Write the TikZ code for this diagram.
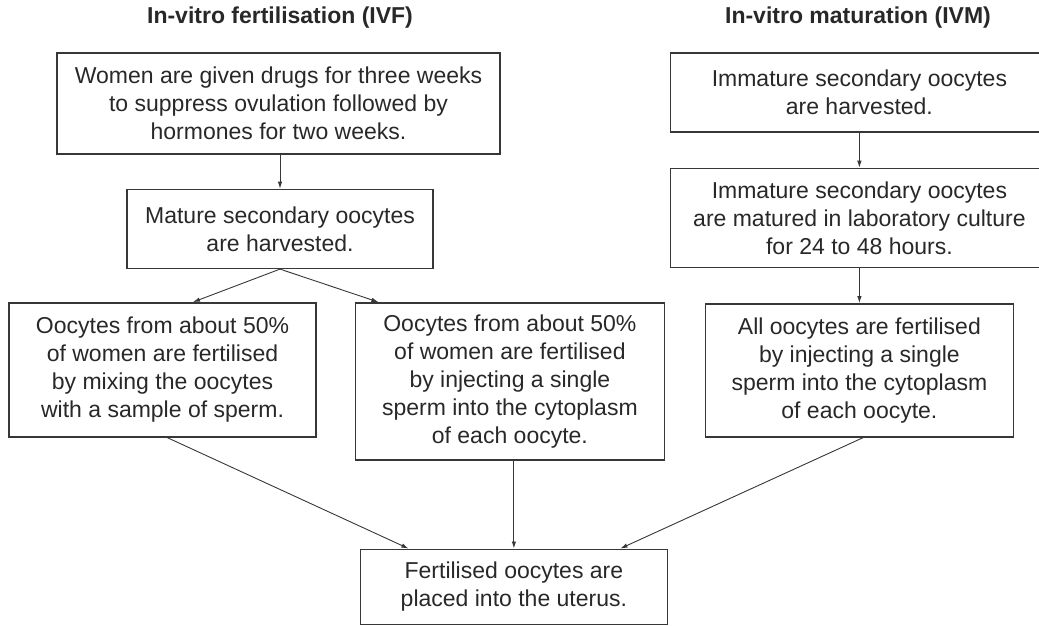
\documentclass[tikz,border=0pt]{standalone}
\usepackage{fontspec}
\setmainfont{Liberation Sans}
\definecolor{InkGray}{RGB}{40,40,40}
\definecolor{FrameGray}{RGB}{55,55,55}
\usetikzlibrary{positioning,arrows.meta}

\begin{document}
\begin{tikzpicture}[x=1pt, y=-1pt,
      every node/.style={font=\fontsize{23}{28}\selectfont, align=center, text=InkGray},
      heading/.style={font=\fontsize{23}{28}\selectfont\bfseries},
      stepbox/.style={draw=FrameGray, line width=1.4pt, inner sep=0pt,
                      minimum width=307pt},
      arr/.style={-{Latex[length=7pt,width=4.5pt]}, draw=FrameGray, line width=0.9pt}
  ]
    \useasboundingbox (0,0) rectangle (1039,626);
    \node[heading] (ivf) at (280,18) {In-vitro fertilisation (IVF)};
    \node[heading] (ivm) at (858,18) {In-vitro maturation (IVM)};
    % IVF branch
    \node[stepbox, minimum width=443pt, minimum height=101pt] (drugs) at (278.5,103.5) {Women are given drugs for three weeks\\to suppress ovulation followed by\\hormones for two weeks.};
    \node[stepbox, minimum width=306pt, minimum height=79pt, below=34pt of drugs, xshift=1.5pt] (mature) {Mature secondary oocytes\\are harvested.};
    \node[stepbox, minimum height=134pt, below=33pt of mature, xshift=-117.5pt] (mixing) {Oocytes from about 50\%\\of women are fertilised\\by mixing the oocytes\\with a sample of sperm.};
    \node[stepbox, minimum width=309pt, minimum height=157pt, right=38pt of mixing.north east, anchor=north west] (injectivf) {Oocytes from about 50\%\\of women are fertilised\\by injecting a single\\sperm into the cytoplasm\\of each oocyte.};
    % IVM branch
    \node[stepbox, minimum width=378pt, minimum height=79pt, right=169pt of drugs.north east, anchor=north west] (immature) {Immature secondary oocytes\\are harvested.};
    \node[stepbox, minimum width=378pt, minimum height=99pt, below=35pt of immature] (culture) {Immature secondary oocytes\\are matured in laboratory culture\\for 24 to 48 hours.};
    \node[stepbox, minimum width=308pt, minimum height=133pt, below=35pt of culture] (injectivm) {All oocytes are fertilised\\by injecting a single\\sperm into the cytoplasm\\of each oocyte.};
    % common end
    \node[stepbox, minimum height=75pt, below=88pt of injectivf, xshift=4pt] (uterus) {Fertilised oocytes are\\placed into the uterus.};
    \draw[arr] (drugs.south -| mature) -- (mature.north);
    \draw[arr] (mature.south) -- ([xshift=30.5pt]mixing.north);
    \draw[arr] (mature.south) -- ([xshift=-131.5pt]injectivf.north);
    \draw[arr] (immature) -- (culture);
    \draw[arr] (culture) -- (injectivm);
    \draw[arr] ([xshift=4.5pt]mixing.south) -- ([xshift=-105.5pt]uterus.north);
    \draw[arr] (injectivf.south -| uterus) -- (uterus.north);
    \draw[arr] ([xshift=4pt]injectivm.south) -- ([xshift=106.5pt]uterus.north);
  \end{tikzpicture}
\end{document}
